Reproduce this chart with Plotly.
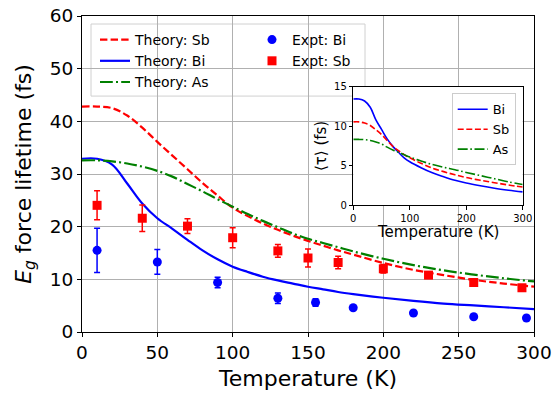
import plotly.graph_objects as go

# ---------------- data ----------------
T_theory = [0, 10, 20, 30, 40, 50, 60, 70, 80, 90, 100, 110, 120, 130, 140, 150,
            160, 170, 180, 200, 220, 240, 260, 280, 300]
theory_sb = [42.8, 42.8, 42.5, 41.1, 38.8, 36.1, 33.5, 30.9, 28.3, 25.9, 23.6, 22.0,
             20.6, 19.4, 18.3, 17.3, 16.4, 15.5, 14.7, 13.1, 11.8, 10.8, 9.9, 9.2, 8.6]
theory_bi = [32.9, 32.9, 31.8, 28.2, 24.4, 21.6, 19.6, 17.5, 15.5, 13.8, 12.4, 11.4,
             10.5, 9.8, 9.2, 8.6, 8.1, 7.6, 7.2, 6.5, 5.9, 5.4, 5.05, 4.7, 4.35]
theory_as = [32.6, 32.6, 32.4, 32.0, 31.4, 30.6, 29.5, 28.1, 26.7, 25.2, 23.8, 22.4,
             21.1, 19.9, 18.7, 17.7, 16.9, 16.1, 15.3, 13.9, 12.7, 11.7, 10.9, 10.2, 9.6]

T_expt_bi = [10, 50, 90, 130, 155, 180, 220, 260, 295]
expt_bi = [15.5, 13.3, 9.4, 6.4, 5.6, 4.6, 3.6, 2.9, 2.65]
expt_bi_err = [4.2, 2.35, 1.0, 1.0, 0.7, 0.3, 0.3, 0.3, 0.3]

T_expt_sb = [10, 40, 70, 100, 130, 150, 170, 200, 230, 260, 292]
expt_sb = [24.05, 21.6, 20.1, 17.9, 15.4, 14.05, 13.2, 12.0, 10.8, 9.4, 8.4]
expt_sb_err = [2.75, 2.5, 1.4, 1.9, 1.2, 1.7, 1.2, 0.8, 0.6, 0.6, 0.5]

T_inset = [0, 10, 20, 30, 40, 50, 60, 70, 80, 90, 100, 120, 140, 160, 180, 200,
           225, 250, 275, 300]
inset_bi = [13.45, 13.45, 13.2, 12.4, 10.8, 9.6, 8.4, 7.45, 6.7, 6.0, 5.5, 4.75,
            4.1, 3.6, 3.15, 2.8, 2.45, 2.15, 1.9, 1.68]
inset_sb = [10.55, 10.55, 10.4, 10.1, 9.55, 8.95, 8.2, 7.45, 6.9, 6.4, 6.0, 5.3,
            4.7, 4.25, 3.85, 3.5, 3.15, 2.85, 2.55, 2.3]
inset_as = [8.33, 8.33, 8.3, 8.2, 8.0, 7.75, 7.35, 7.0, 6.7, 6.4, 6.1, 5.6,
            5.15, 4.8, 4.5, 4.15, 3.75, 3.35, 2.95, 2.62]

main_xticks = [0, 50, 100, 150, 200, 250, 300]
main_yticks = [0, 10, 20, 30, 40, 50, 60]
inset_xticks = [0, 100, 200, 300]
inset_yticks = [0, 5, 10, 15]

# ---------------- styles ----------------
RED, BLUE, GREEN = "#ff0000", "#0000ff", "#008000"
DASH = "7.4px,3.2px"
DASHDOT = "12.8px,3.2px,2px,3.2px"
FONT = "DejaVu Sans"

W, H = 555, 394
ML, MR, MT, MB = 82, 21, 16, 62.3
PW, PH = W - ML - MR, H - MT - MB


def px_x(p):
    return (p - ML) / PW


def px_y(p):
    return (H - MB - p) / PH


fig = go.Figure()

# main theory curves
fig.add_trace(go.Scatter(x=T_theory, y=theory_sb, mode="lines", name="Theory: Sb",
                         line=dict(color=RED, width=2.2, dash=DASH, shape="spline"),
                         legend="legend"))
fig.add_trace(go.Scatter(x=T_theory, y=theory_bi, mode="lines", name="Theory: Bi",
                         line=dict(color=BLUE, width=2.2, shape="spline"),
                         legend="legend"))
fig.add_trace(go.Scatter(x=T_theory, y=theory_as, mode="lines", name="Theory: As",
                         line=dict(color=GREEN, width=2.2, dash=DASHDOT, shape="spline"),
                         legend="legend"))

# experiments
fig.add_trace(go.Scatter(x=T_expt_bi, y=expt_bi, mode="markers", name="Expt: Bi",
                         marker=dict(color=BLUE, size=9, symbol="circle"),
                         error_y=dict(type="data", array=expt_bi_err, color=BLUE,
                                      thickness=1.5, width=3),
                         legend="legend2"))
fig.add_trace(go.Scatter(x=T_expt_sb, y=expt_sb, mode="markers", name="Expt: Sb",
                         marker=dict(color=RED, size=9, symbol="square"),
                         error_y=dict(type="data", array=expt_sb_err, color=RED,
                                      thickness=1.5, width=3),
                         legend="legend2"))

# inset curves
fig.add_trace(go.Scatter(x=T_inset, y=inset_bi, mode="lines", name="Bi",
                         line=dict(color=BLUE, width=1.6, shape="spline"),
                         xaxis="x2", yaxis="y2", legend="legend3"))
fig.add_trace(go.Scatter(x=T_inset, y=inset_sb, mode="lines", name="Sb",
                         line=dict(color=RED, width=1.6, dash="6px,2.6px", shape="spline"),
                         xaxis="x2", yaxis="y2", legend="legend3"))
fig.add_trace(go.Scatter(x=T_inset, y=inset_as, mode="lines", name="As",
                         line=dict(color=GREEN, width=1.6, dash="10px,2.6px,1.6px,2.6px",
                                   shape="spline"),
                         xaxis="x2", yaxis="y2", legend="legend3"))

inset_x0, inset_x1 = px_x(353.3), px_x(522.7)
inset_y0, inset_y1 = px_y(205), px_y(86.7)

fig.update_layout(
    width=W, height=H,
    margin=dict(l=ML, r=MR, t=MT, b=MB, autoexpand=False),
    paper_bgcolor="white", plot_bgcolor="white",
    font=dict(family=FONT, color="black"),
    xaxis=dict(domain=[0, 1], range=[0, 300], tickvals=main_xticks,
               showgrid=True, gridcolor="#b0b0b0", gridwidth=0.8,
               showline=True, linecolor="black", linewidth=1, mirror=True,
               ticks="outside", ticklen=4, tickcolor="black",
               tickfont=dict(size=18.5), zeroline=False,
               title=dict(text="Temperature (K)", font=dict(size=22), standoff=8)),
    yaxis=dict(domain=[0, 1], range=[0, 60], tickvals=main_yticks,
               showgrid=True, gridcolor="#b0b0b0", gridwidth=0.8,
               showline=True, linecolor="black", linewidth=1, mirror=True,
               ticks="outside", ticklen=4, tickcolor="black",
               tickfont=dict(size=18.5), zeroline=False,
               title=dict(text="<i>E</i><sub><i>g</i></sub> force lifetime (fs)",
                          font=dict(size=22), standoff=12)),
    xaxis2=dict(domain=[inset_x0, inset_x1], anchor="y2", range=[0, 300],
                tickvals=inset_xticks, showgrid=False, zeroline=False,
                showline=True, linecolor="black", linewidth=1, mirror=True,
                ticks="outside", ticklen=3.5, tickcolor="black",
                tickfont=dict(size=10)),
    yaxis2=dict(domain=[inset_y0, inset_y1], anchor="x2", range=[0, 15],
                tickvals=inset_yticks, showgrid=False, zeroline=False,
                showline=True, linecolor="black", linewidth=1, mirror=True,
                ticks="outside", ticklen=3.5, tickcolor="black",
                tickfont=dict(size=10)),
    legend=dict(x=px_x(95), y=px_y(24), xanchor="left", yanchor="top",
                bgcolor="rgba(0,0,0,0)", borderwidth=0,
                font=dict(size=14), itemwidth=30),
    legend2=dict(x=px_x(252), y=px_y(24), xanchor="left", yanchor="top",
                 bgcolor="rgba(0,0,0,0)", borderwidth=0,
                 font=dict(size=14), itemwidth=30),
    legend3=dict(x=px_x(451.7), y=px_y(93.3), xanchor="left", yanchor="top",
                 bgcolor="rgba(255,255,255,0.8)", bordercolor="#cccccc", borderwidth=1,
                 font=dict(size=13), itemwidth=30),
    shapes=[
        # main legend frame
        dict(type="rect", xref="paper", yref="paper",
             x0=px_x(91), x1=px_x(365), y0=px_y(96), y1=px_y(24),
             fillcolor="rgba(255,255,255,0.8)", line=dict(color="#d0d0d0", width=1),
             layer="between"),
        # inset background
        dict(type="rect", xref="paper", yref="paper",
             x0=inset_x0, x1=inset_x1, y0=inset_y0, y1=inset_y1,
             fillcolor="white", line=dict(width=0), layer="between"),
    ],
    annotations=[
        # inset axis titles
        dict(text="Temperature (K)", xref="paper", yref="paper",
             x=px_x(438), y=px_y(232), xanchor="center", yanchor="middle",
             showarrow=False, font=dict(size=15)),
        dict(text="⟨τ⟩ (fs)", xref="paper", yref="paper",
             x=px_x(321), y=px_y(146), xanchor="center", yanchor="middle",
             textangle=-90, showarrow=False, font=dict(size=15)),
    ],
)

fig.write_html("out.html", config={"displayModeBar": False},
               post_script="document.body.style.margin='0';document.body.style.padding='0';")
